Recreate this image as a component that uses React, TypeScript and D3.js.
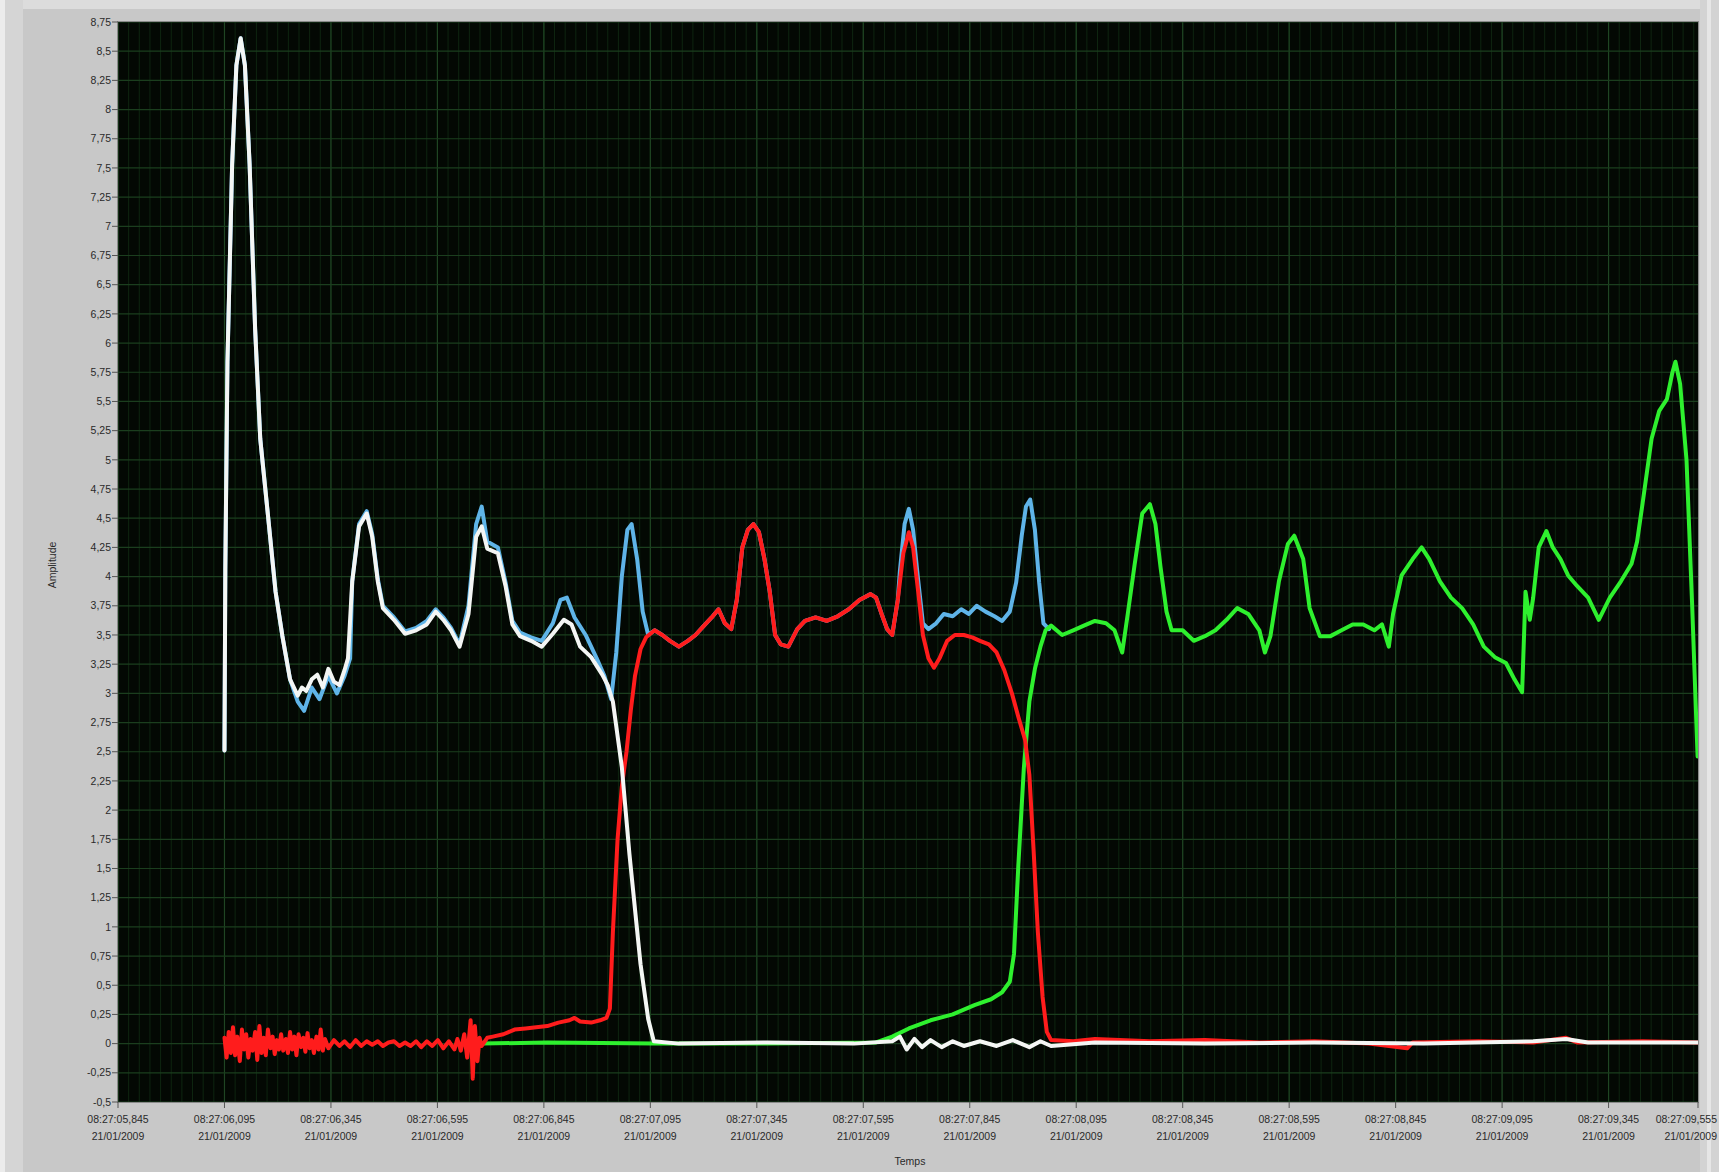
import React from "react";
import * as d3 from "d3";

// time in ms from 08:27:05,845 ; amplitude
const whiteSeries: [number, number][] = [
  [250, 2.51], [252, 4.06], [257, 5.84], [268, 7.53], [278, 8.38], [288, 8.61], [298, 8.38], [309, 7.53],
  [322, 6.12], [334, 5.18], [352, 4.53], [370, 3.87], [386, 3.49], [404, 3.12], [422, 2.98], [432, 3.05],
  [442, 3.02], [455, 3.12], [468, 3.16], [481, 3.05], [494, 3.21], [507, 3.1], [520, 3.07], [532, 3.2],
  [540, 3.3], [550, 3.96], [566, 4.43], [584, 4.54], [597, 4.34], [610, 3.96], [622, 3.73], [648, 3.63],
  [674, 3.51], [700, 3.54], [725, 3.59], [746, 3.7], [764, 3.63], [782, 3.54], [802, 3.4], [823, 3.68],
  [841, 4.34], [854, 4.43], [867, 4.24], [892, 4.2], [910, 3.92], [926, 3.59], [944, 3.49], [970, 3.45],
  [995, 3.4], [1021, 3.51], [1047, 3.63], [1065, 3.59], [1085, 3.4], [1111, 3.31], [1137, 3.16], [1150, 3.07],
  [1162, 2.93], [1183, 2.37], [1201, 1.62], [1227, 0.68], [1245, 0.21], [1258, 0.02], [1317, 0.0], [1523, 0.01],
  [1728, 0.0], [1818, 0.02], [1836, 0.06], [1852, -0.05], [1870, 0.04], [1888, -0.03], [1908, 0.03], [1934, -0.03],
  [1960, 0.02], [1986, -0.02], [2024, 0.02], [2063, -0.02], [2101, 0.03], [2140, -0.03], [2166, 0.02], [2191, -0.02],
  [2294, 0.01], [2552, 0.0], [2809, 0.01], [3066, 0.0], [3323, 0.02], [3400, 0.04], [3452, 0.01], [3709, 0.01],
];

const blueSeries: [number, number][] = [
  [250, 2.51], [252, 4.06], [257, 5.84], [268, 7.53], [278, 8.38], [288, 8.61], [298, 8.38], [309, 7.53],
  [322, 6.12], [334, 5.18], [352, 4.53], [370, 3.87], [386, 3.49], [404, 3.12], [422, 2.93], [437, 2.85],
  [455, 3.05], [473, 2.95], [494, 3.15], [514, 3.0], [532, 3.15], [545, 3.3], [550, 3.96], [566, 4.45],
  [584, 4.56], [597, 4.36], [610, 3.98], [622, 3.75], [648, 3.65], [674, 3.53], [700, 3.56], [725, 3.62],
  [746, 3.72], [764, 3.65], [782, 3.56], [802, 3.42], [823, 3.75], [841, 4.45], [854, 4.6], [867, 4.3],
  [892, 4.25], [910, 3.95], [926, 3.62], [944, 3.52], [970, 3.48], [995, 3.45], [1021, 3.6], [1039, 3.8],
  [1054, 3.82], [1072, 3.65], [1098, 3.5], [1124, 3.3], [1142, 3.15], [1158, 2.95], [1170, 3.35], [1183, 4.0],
  [1196, 4.4], [1206, 4.45], [1219, 4.15], [1232, 3.7], [1245, 3.5], [1260, 3.54], [1278, 3.5], [1296, 3.45],
  [1317, 3.4], [1338, 3.45], [1356, 3.5], [1376, 3.58], [1394, 3.65], [1410, 3.72], [1425, 3.6], [1440, 3.55],
  [1453, 3.8], [1466, 4.25], [1479, 4.4], [1492, 4.45], [1505, 4.38], [1518, 4.15], [1530, 3.88], [1543, 3.5],
  [1556, 3.42], [1574, 3.4], [1595, 3.55], [1613, 3.62], [1638, 3.65], [1664, 3.62], [1690, 3.66], [1716, 3.72],
  [1741, 3.8], [1767, 3.85], [1780, 3.82], [1793, 3.68], [1806, 3.55], [1818, 3.5], [1831, 3.8], [1836, 4.05],
  [1847, 4.45], [1857, 4.58], [1867, 4.4], [1878, 4.0], [1890, 3.6], [1903, 3.55], [1921, 3.6], [1939, 3.68],
  [1960, 3.66], [1980, 3.72], [1998, 3.68], [2016, 3.75], [2037, 3.7], [2058, 3.66], [2076, 3.62], [2094, 3.7],
  [2109, 3.95], [2122, 4.35], [2132, 4.6], [2142, 4.66], [2153, 4.4], [2163, 3.95], [2173, 3.6], [2186, 3.55],
];

const redSeries: [number, number][] = [
  [250, 0.05], [255, -0.12], [260, 0.1], [265, -0.08], [270, 0.14], [275, -0.1], [280, 0.06], [286, -0.15],
  [291, 0.12], [296, -0.05], [301, 0.08], [306, -0.12], [311, 0.04], [316, -0.06], [322, 0.1], [327, -0.14],
  [332, 0.15], [337, -0.08], [342, 0.05], [347, -0.1], [352, 0.12], [358, -0.04], [363, 0.06], [368, -0.09],
  [373, 0.03], [378, -0.05], [383, 0.08], [388, -0.06], [394, 0.04], [399, -0.08], [404, 0.1], [409, -0.05],
  [414, 0.06], [419, -0.1], [424, 0.08], [430, -0.03], [435, 0.05], [440, -0.07], [445, 0.09], [450, -0.04],
  [455, 0.03], [460, -0.08], [466, 0.06], [471, -0.05], [476, 0.12], [481, -0.06], [486, 0.04], [494, -0.04],
  [507, 0.03], [520, -0.02], [532, 0.02], [545, -0.03], [558, 0.03], [571, -0.02], [584, 0.02], [597, -0.01],
  [610, 0.02], [622, -0.02], [635, 0.01], [648, 0.02], [661, -0.02], [674, 0.01], [687, -0.02], [700, 0.02],
  [712, -0.03], [725, 0.02], [738, -0.02], [751, 0.03], [764, -0.04], [777, 0.02], [790, -0.05], [797, 0.04],
  [805, -0.06], [813, 0.08], [820, -0.12], [828, 0.2], [833, -0.3], [838, 0.15], [844, -0.15], [849, 0.05],
  [854, -0.02], [867, 0.05], [880, 0.06], [905, 0.08], [931, 0.12], [957, 0.13], [982, 0.14], [1008, 0.15],
  [1034, 0.18], [1060, 0.2], [1072, 0.22], [1085, 0.19], [1111, 0.18], [1132, 0.2], [1147, 0.22], [1155, 0.3],
  [1162, 0.95], [1173, 1.75], [1183, 2.2], [1194, 2.5], [1204, 2.85], [1214, 3.15], [1227, 3.38], [1240, 3.48],
  [1260, 3.54], [1278, 3.5], [1296, 3.45], [1317, 3.4], [1338, 3.45], [1356, 3.5], [1376, 3.58], [1394, 3.65],
  [1410, 3.72], [1425, 3.6], [1440, 3.55], [1453, 3.8], [1466, 4.25], [1479, 4.4], [1492, 4.45], [1505, 4.38],
  [1518, 4.15], [1530, 3.88], [1543, 3.5], [1556, 3.42], [1574, 3.4], [1595, 3.55], [1613, 3.62], [1638, 3.65],
  [1664, 3.62], [1690, 3.66], [1716, 3.72], [1741, 3.8], [1767, 3.85], [1780, 3.82], [1793, 3.68], [1806, 3.55],
  [1818, 3.5], [1831, 3.8], [1844, 4.2], [1857, 4.38], [1867, 4.25], [1878, 3.9], [1890, 3.5], [1903, 3.3],
  [1916, 3.22], [1929, 3.3], [1947, 3.45], [1965, 3.5], [1986, 3.5], [2006, 3.48], [2024, 3.45], [2045, 3.42],
  [2063, 3.35], [2081, 3.2], [2099, 3.0], [2114, 2.8], [2130, 2.6], [2140, 2.3], [2150, 1.65], [2160, 0.95],
  [2171, 0.4], [2181, 0.1], [2191, 0.03], [2243, 0.02], [2294, 0.04], [2423, 0.02], [2552, 0.03], [2680, 0.01],
  [2809, 0.02], [2937, 0.0], [3027, -0.04], [3040, 0.01], [3194, 0.02], [3323, 0.01], [3400, 0.05], [3426, 0.01],
  [3580, 0.02], [3709, 0.01],
];

const greenSeries: [number, number][] = [
  [854, 0.0], [1008, 0.01], [1260, 0.0], [1523, 0.0], [1780, 0.01], [1818, 0.06], [1857, 0.13], [1908, 0.2],
  [1960, 0.25], [2011, 0.33], [2050, 0.38], [2076, 0.44], [2094, 0.53], [2104, 0.77], [2114, 1.52], [2127, 2.36],
  [2140, 2.93], [2153, 3.21], [2166, 3.4], [2178, 3.54], [2191, 3.58], [2217, 3.5], [2243, 3.54], [2268, 3.58],
  [2294, 3.62], [2320, 3.6], [2340, 3.54], [2358, 3.35], [2371, 3.68], [2387, 4.1], [2405, 4.54], [2423, 4.62],
  [2436, 4.45], [2448, 4.08], [2462, 3.7], [2474, 3.54], [2500, 3.54], [2526, 3.45], [2552, 3.49], [2577, 3.54],
  [2603, 3.63], [2628, 3.73], [2654, 3.68], [2680, 3.54], [2693, 3.35], [2706, 3.49], [2726, 3.96], [2747, 4.28],
  [2762, 4.35], [2783, 4.15], [2798, 3.73], [2822, 3.49], [2847, 3.49], [2873, 3.54], [2899, 3.59], [2924, 3.59],
  [2950, 3.54], [2968, 3.59], [2984, 3.4], [2994, 3.68], [3014, 4.01], [3040, 4.15], [3061, 4.25], [3079, 4.15],
  [3104, 3.96], [3130, 3.82], [3156, 3.73], [3182, 3.59], [3207, 3.4], [3233, 3.31], [3259, 3.26], [3279, 3.12],
  [3297, 3.01], [3305, 3.87], [3315, 3.63], [3323, 3.82], [3336, 4.25], [3354, 4.39], [3369, 4.25], [3387, 4.15],
  [3405, 4.01], [3426, 3.92], [3452, 3.82], [3477, 3.63], [3503, 3.82], [3529, 3.96], [3554, 4.11], [3567, 4.3],
  [3580, 4.63], [3601, 5.18], [3619, 5.42], [3637, 5.52], [3650, 5.75], [3657, 5.84], [3668, 5.65], [3683, 5.0],
  [3696, 3.78], [3709, 2.46],
];

const xTicksMs = [0, 250, 500, 750, 1000, 1250, 1500, 1750, 2000, 2250, 2500, 2750, 3000, 3250, 3500, 3710];
const xDateLabel = "21/01/2009";
const startSeconds = 5.845;
const yTicks = d3.range(-0.5, 8.76, 0.25);
const xDomain: [number, number] = [0, 3710];
const yDomain: [number, number] = [-0.5, 8.75];

const W = 1719, H = 1172;
const L = 118, T = 22, R = 1698, B = 1102;

function fmtTime(ms: number) {
  const s = startSeconds + ms / 1000;
  const whole = Math.floor(s + 1e-9);
  const frac = Math.round((s - whole) * 1000);
  return `08:27:${String(whole).padStart(2, "0")},${String(frac).padStart(3, "0")}`;
}
function fmtY(v: number) {
  const r = Math.round(v * 100) / 100;
  return String(r).replace(".", ",");
}

export default function App() {
  const x = d3.scaleLinear().domain(xDomain).range([L, R]);
  const y = d3.scaleLinear().domain(yDomain).range([B, T]);
  const line = d3.line<[number, number]>().x((d) => x(d[0])).y((d) => y(d[1])).curve(d3.curveLinear);
  const minorX = d3.range(0, 3710, 25);
  const majorX = d3.range(0, 3710, 250);
  const font = "'Liberation Sans', Arial, sans-serif";
  const series: { data: [number, number][]; color: string }[] = [
    { data: blueSeries, color: "#5fb4e8" },
    { data: greenSeries, color: "#2ef02e" },
    { data: redSeries, color: "#ff1c1c" },
    { data: whiteSeries, color: "#f4f6f4" },
  ];
  const last = xTicksMs.length - 1;
  return (
    <div>
      <style>{`body{margin:0;} svg{display:block;}`}</style>
      <svg width={W} height={H} viewBox={`0 0 ${W} ${H}`}>
        <rect x={0} y={0} width={W} height={H} fill="#c8c8c8" />
        <rect x={0} y={0} width={W} height={9} fill="#dcdcdc" />
        <rect x={0} y={0} width={5} height={H} fill="#ececec" />
        <rect x={5} y={0} width={18} height={H} fill="#d5d5d5" />
        <rect x={1700} y={0} width={19} height={H} fill="#d3d3d3" />
        <rect x={1707} y={0} width={4} height={H} fill="#e6e6e6" />
        <defs>
          <clipPath id="plotclip">
            <rect x={L} y={T} width={R - L} height={B - T} />
          </clipPath>
        </defs>
        <rect x={L} y={T} width={R - L} height={B - T} fill="#030803" />
        <g clipPath="url(#plotclip)">
          {minorX.map((t) => (
            <line key={"mx" + t} x1={x(t)} x2={x(t)} y1={T} y2={B} stroke="#0e2510" strokeWidth={1} />
          ))}
          {majorX.map((t) => (
            <line key={"Mx" + t} x1={x(t)} x2={x(t)} y1={T} y2={B} stroke="#1f4523" strokeWidth={1.2} />
          ))}
          {yTicks.map((v) => (
            <line key={"gy" + v} x1={L} x2={R} y1={y(v)} y2={y(v)} stroke="#1b3e1e" strokeWidth={1.2} />
          ))}
          {series.map((s, i) => (
            <path key={i} d={line(s.data) || ""} fill="none" stroke={s.color} strokeWidth={4}
              strokeLinejoin="round" strokeLinecap="round" />
          ))}
        </g>
        <rect x={L - 0.5} y={T - 0.5} width={R - L + 1} height={B - T + 1} fill="none" stroke="#8a8a8a" strokeWidth={1} />
        {yTicks.map((v) => (
          <g key={"yt" + v}>
            <line x1={L - 6} x2={L} y1={y(v)} y2={y(v)} stroke="#555" strokeWidth={1} />
            <text x={L - 7} y={y(v)} dy="0.35em" textAnchor="end" fontSize={10.5} fontFamily={font} fill="#2a2a2a">
              {fmtY(v)}
            </text>
          </g>
        ))}
        {xTicksMs.map((t, i) => {
          const isLast = i === last;
          const tx = isLast ? W - 2 : x(t);
          const anchor = isLast ? "end" : "middle";
          return (
            <g key={"xt" + i}>
              <line x1={x(t)} x2={x(t)} y1={B} y2={B + 6} stroke="#555" strokeWidth={1} />
              <text x={tx} y={B + 21} textAnchor={anchor} fontSize={10.5} fontFamily={font} fill="#2a2a2a">
                {fmtTime(t)}
              </text>
              <text x={tx} y={B + 38} textAnchor={anchor} fontSize={10.5} fontFamily={font} fill="#2a2a2a">
                {xDateLabel}
              </text>
            </g>
          );
        })}
        <text x={910} y={1165} textAnchor="middle" fontSize={10.5} fontFamily={font} fill="#2a2a2a">Temps</text>
        <text transform="translate(56,565) rotate(-90)" textAnchor="middle" fontSize={10.5} fontFamily={font} fill="#2a2a2a">
          Amplitude
        </text>
      </svg>
    </div>
  );
}
